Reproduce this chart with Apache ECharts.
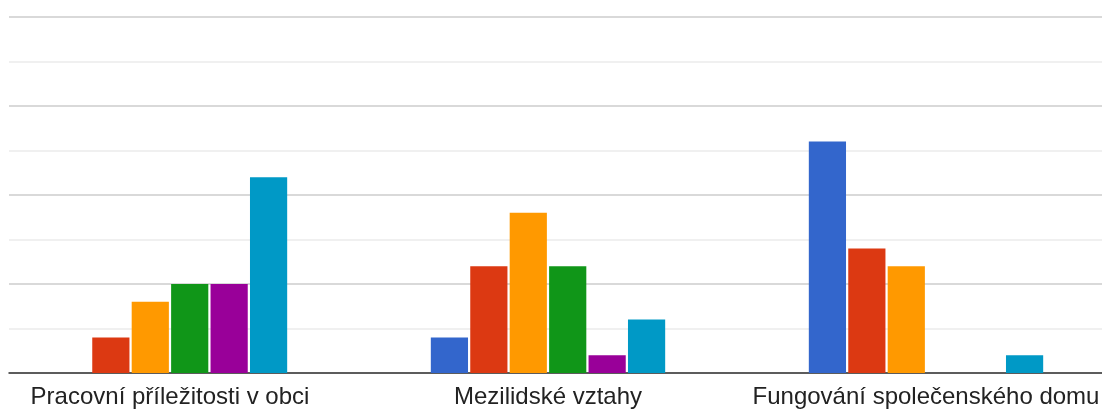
<!DOCTYPE html>
<html>
  <head>
    <meta charset="utf-8" />
    <title>ECharts</title>
    <script src="https://cdn.jsdelivr.net/npm/echarts@6/dist/echarts.min.js"></script>
    <style>
      html, body { margin: 0; padding: 0; background: #fff; overflow: hidden; }
      /* graf je širší než okno, levý i pravý okraj jsou oříznuté */
      #main { position: absolute; left: -19px; top: 0; width: 1134px; height: 413px; }
    </style>
  </head>
  <body>
    <div id="main"></div>
    <script type="text/javascript">
      // kategorie a hodnoty (počty odpovědí)
      var categories = ['Pracovní příležitosti v obci', 'Mezilidské vztahy', 'Fungování společenského domu'];
      var seriesNames = ['1', '2', '3', '4', '5', '6'];
      var s1 = [0, 2, 13];
      var s2 = [2, 6, 7];
      var s3 = [4, 9, 6];
      var s4 = [5, 6, 0];
      var s5 = [5, 1, 0];
      var s6 = [11, 3, 1];
      var seriesData = [s1, s2, s3, s4, s5, s6];
      var colors = ['#3366cc', '#dc3912', '#ff9900', '#109618', '#990099', '#0099c6'];

      var myChart = echarts.init(document.getElementById('main'));

      var series = seriesData.map(function (d, i) {
        return {
          name: seriesNames[i],
          type: 'bar',
          xAxisIndex: 1,
          yAxisIndex: 1,
          barCategoryGap: '38%',
          barGap: '6%',
          itemStyle: { color: colors[i] },
          data: d
        };
      });

      var option = {
        animation: false,
        // grid 0 jen pro mřížku, grid 1 pro sloupce
        grid: [
          { left: 28, right: 13, top: 17, bottom: 40 },
          { left: 0, right: 0, top: 17, bottom: 40 }
        ],
        xAxis: [
          {
            gridIndex: 0,
            type: 'value',
            min: 0,
            max: 1,
            axisLine: { show: true, onZero: false, lineStyle: { color: '#333', width: 1.5 } },
            axisTick: { show: false },
            axisLabel: { show: false },
            splitLine: { show: false }
          },
          {
            gridIndex: 1,
            type: 'category',
            data: categories,
            axisLine: { show: false },
            axisTick: { show: false },
            axisLabel: {
              interval: 0,
              margin: 12,
              color: '#222',
              fontSize: 24,
              fontFamily: 'Arial, "Liberation Sans", sans-serif'
            }
          }
        ],
        yAxis: [
          {
            gridIndex: 0,
            type: 'value',
            min: 0,
            max: 20,
            interval: 2.5,
            axisLine: { show: false },
            axisTick: { show: false },
            axisLabel: { show: false },
            splitLine: { lineStyle: { color: ['#cccccc', '#ebebeb'], width: 1.5 } }
          },
          {
            gridIndex: 1,
            type: 'value',
            min: 0,
            max: 20,
            show: false
          }
        ],
        series: series
      };
      myChart.setOption(option);
    </script>
  </body>
</html>
